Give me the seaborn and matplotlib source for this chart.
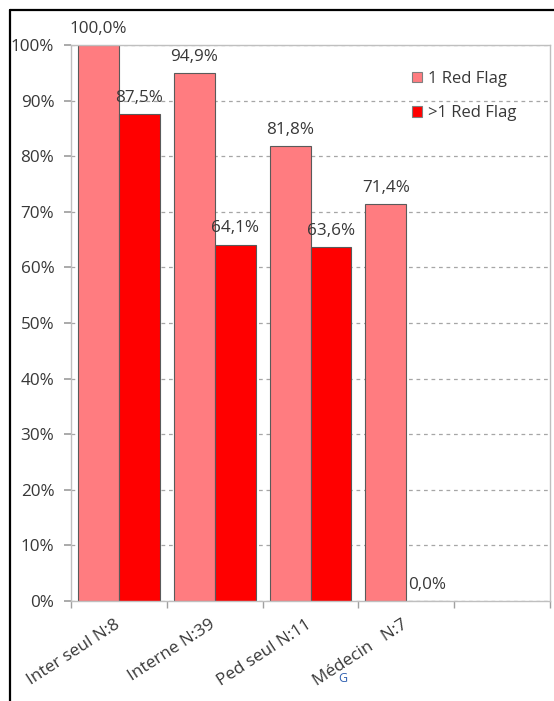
import matplotlib
matplotlib.use("Agg")
import matplotlib.pyplot as plt
import seaborn as sns
import pandas as pd
from matplotlib.transforms import ScaledTranslation
from matplotlib.patches import Patch
from matplotlib.lines import Line2D

categories = ["Inter seul N:8", "Interne N:39", "Ped seul N:11", "Médecin   N:7"]
series = ["1 Red Flag", ">1 Red Flag"]
one_flag = [100.0, 94.9, 81.8, 71.4]
more_flags = [87.5, 64.1, 63.6, 0.0]
yticks = [0, 10, 20, 30, 40, 50, 60, 70, 80, 90, 100]
ytick_labels = [f"{v}%" for v in yticks]
colors = ["#FF7C80", "#FF0000"]

sns.set_theme(style="white")
plt.rcParams["font.family"] = ["Open Sans", "DejaVu Sans"]

df = pd.DataFrame({
    "cat": categories * 2,
    "series": [series[0]] * len(categories) + [series[1]] * len(categories),
    "val": one_flag + more_flags,
})

W, H = 554, 701
FS = 12.3
TXT = "#383838"
fig = plt.figure(figsize=(W / 100, H / 100), dpi=100)
ax = fig.add_axes([71 / W, 1 - 601 / H, (550 - 71) / W, (601 - 45) / H])

sns.barplot(data=df, x="cat", y="val", hue="series", order=categories,
            hue_order=series, palette=colors, width=0.855, saturation=1,
            edgecolor="#5a5a5a", linewidth=0.8, ax=ax, legend=False, errorbar=None)

ax.set_xlim(-0.5, 4.5)
ax.set_ylim(0, 100)
ax.set_yticks(yticks)
ax.set_yticklabels(ytick_labels)
ax.set_xlabel("")
ax.set_ylabel("")

# grid
ax.yaxis.grid(True, linestyle=(0, (3, 3)), color="#A6A6A6", linewidth=0.9)
ax.set_axisbelow(True)
for s in ax.spines.values():
    s.set_color("#BFBFBF")
    s.set_linewidth(1.0)
    s.set_visible(True)

ax.tick_params(axis="y", direction="out", length=5, color="#A0A0A0",
               labelcolor=TXT, labelsize=FS, pad=7, left=True)
ax.set_xticks(range(len(categories)))
ax.set_xticks([-0.5, 0.5, 1.5, 2.5, 3.5, 4.5], minor=True)
ax.tick_params(axis="x", which="major", length=0, labelcolor=TXT,
               labelsize=FS, pad=0)
ax.tick_params(axis="x", which="minor", direction="out", length=5,
               color="#A0A0A0", bottom=True)
ax.set_xticklabels(categories, rotation=33, ha="right", va="top",
                   rotation_mode="anchor")
for lab in ax.get_xticklabels():
    lab.set_transform(lab.get_transform() +
                      ScaledTranslation(-0.05, -0.16, fig.dpi_scale_trans))

# value labels
def fmt(v):
    return f"{v:.1f}".replace(".", ",") + "%"

for cont, vals in zip(ax.containers, [one_flag, more_flags]):
    ax.bar_label(cont, labels=[fmt(v) for v in vals], padding=6,
                 fontsize=FS, color=TXT)

# "G" fragment under the last label
fig.text(343 / W, 1 - 678 / H, "G", color="#3060B0", fontsize=9,
         ha="center", va="center")

# legend
handles = [Patch(facecolor=c, edgecolor="#808080", linewidth=0.8) for c in colors]
ax.legend(handles, series, loc="upper left",
          bbox_to_anchor=(412 / W, 1 - 71 / H), bbox_transform=fig.transFigure,
          frameon=False, fontsize=12, handlelength=0.6, handleheight=0.6,
          handletextpad=0.35, labelspacing=1.1, borderpad=0, borderaxespad=0,
          labelcolor=TXT)

# outer frame (left and top)
fig.add_artist(Line2D([10 / W, 10 / W], [0, 1 - 10 / H], transform=fig.transFigure,
                      color="black", linewidth=1.6))
fig.add_artist(Line2D([10 / W, 1], [1 - 10 / H, 1 - 10 / H], transform=fig.transFigure,
                      color="black", linewidth=1.6))

fig.savefig("out.png", dpi=100, facecolor="white")
